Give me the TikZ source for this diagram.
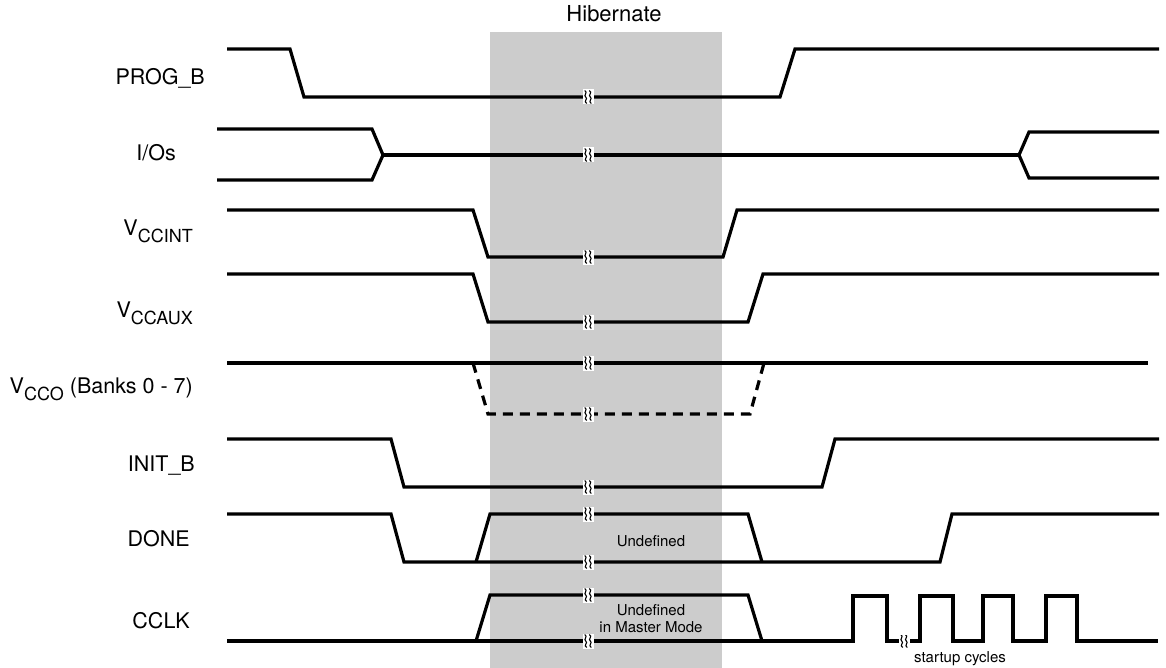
\documentclass[tikz,border=0pt]{standalone}
\usepackage{fontspec}
\setmainfont{TeX Gyre Heros}
\newcommand{\vsub}[1]{\raisebox{-7pt}{\fontsize{18}{18}\selectfont #1}}
\begin{document}
\begin{tikzpicture} [
  x=1pt, y=-1pt,
  signal/.style= {line width=3.2pt},
  undef/.style= {signal,dash pattern=on 10pt off 7pt},
  sig label/.style= {anchor=base east,inner sep=0,font=\fontsize{21.5}{24}\selectfont},
  note/.style= {align=center,inner sep=0,font=\fontsize{15}{17}\selectfont},
  break mark/.style= {fill=white,inner sep=0,minimum width=11pt,minimum height=15pt,
    path picture={\foreach \d in {-2.3,2.3}
      \draw [shift={(path picture bounding box.center)},line width=1.1pt]
        (\d-1,-6.5) .. controls (\d+2.8,-4.5) and (\d-2.8,-1.5) .. (\d,0)
        .. controls (\d+2.8,1.5) and (\d-2.8,4.5) .. (\d+1,6.5);}},
  small break/.style= {break mark,minimum height=12pt},
]
\useasboundingbox (0,0) rectangle (1166,668);
\fill [gray!40] (490,32) rectangle (722,668);
\node (hib) [note,anchor=base,font=\fontsize{22}{24}\selectfont] at (614,22) {Hibernate};

% signal names
\node (prog) [sig label] at (205,85) {PROG\_B};
\node (ios) [sig label] at (176,161) {I/Os};
\node (vint) [sig label] at (193,236) {V\vsub{CCINT}};
\node (vaux) [sig label] at (193,317) {V\vsub{CCAUX}};
\node (vco) [sig label] at (193,393) {V\vsub{CCO} (Banks 0 - 7)};
\node (init) [sig label] at (195,471) {INIT\_B};
\node (done) [sig label] at (190,546) {DONE};
\node (cclk) [sig label] at (190,628) {CCLK};

% waveforms
\draw [signal] (227,49) -- (290,49) -- (304,97) -- (780,97) -- (795,49) -- (1159,49);
\draw [signal] (217,129) -- (372,129) -- (383,155) -- (372,180) -- (217,180);
\draw [signal] (383,155) -- (1019,155);
\draw [signal] (1159,132) -- (1029,132) -- (1019,155) -- (1029,178) -- (1159,178);
\draw [signal] (227,210) -- (473,210) -- (488,257) -- (723,257) -- (737,210) -- (1159,210);
\draw [signal] (227,274) -- (473,274) -- (488,322) -- (748,322) -- (763,274) -- (1159,274);
\draw [signal] (227,363) -- (1148,363);
\draw [undef] (473,363) -- (488,414) -- (750,414) -- (764,363);
\draw [signal] (227,439) -- (391,439) -- (404,487) -- (822,487) -- (835,439) -- (1159,439);
\draw [signal] (227,514) -- (391,514) -- (404,562) -- (940,562) -- (952,514) -- (1159,514);
\draw [signal] (476,562) -- (490,514) -- (748,514) -- (762,562);
\draw [signal] (227,641) -- (853,641) -- (853,596) -- (887,596) -- (887,641)
  -- (920,641) -- (920,596) -- (953,596) -- (953,641) -- (983,641) -- (983,596)
  -- (1013,596) -- (1013,641) -- (1046,641) -- (1046,596) -- (1077,596)
  -- (1077,641) -- (1158,641);
\draw [signal] (476,641) -- (490,595) -- (748,595) -- (762,641);

% breaks
\foreach \y in {97,155,257,322,363,414,487,514,562,595,641}
  \node [break mark] at (588,\y) {};
\node (cbrk) [small break] at (904,641) {};

\node (und1) [note,anchor=base] at (651,546) {Undefined};
\node (und2) [note,anchor=base] at (651,632) {Undefined\\in Master Mode};
\node (startup) [note,anchor=base] at (960,662) {startup cycles};
\end{tikzpicture}
\end{document}
